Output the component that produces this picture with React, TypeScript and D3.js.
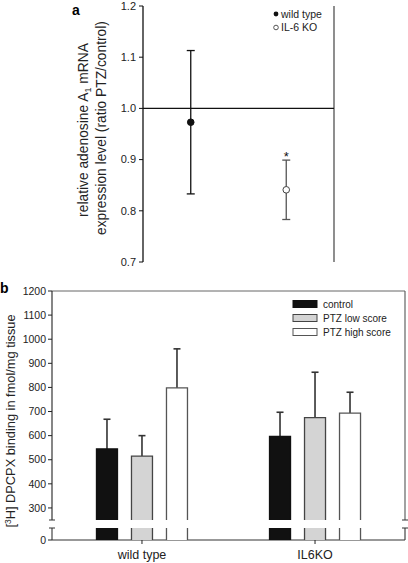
import React from "react";
import * as d3 from "d3";

const groupsA = ["wild type", "IL-6 KO"];
const meanA = [0.973, 0.841];
const lowA = [0.833, 0.783];
const highA = [1.113, 0.899];
const ticksA = [0.7, 0.8, 0.9, 1.0, 1.1, 1.2];

const groupsB = ["wild type", "IL6KO"];
const seriesB = ["control", "PTZ low score", "PTZ high score"];
const valuesB = [
  [545, 515, 798],
  [597, 675, 693],
];
const errTopB = [
  [668, 600, 960],
  [697, 863, 780],
];
const ticksB = [300, 400, 500, 600, 700, 800, 900, 1000, 1100, 1200];

const FONT = "Liberation Sans, Arial, sans-serif";

export default function App() {
  // Panel a
  const yA = d3.scaleLinear().domain([0.7, 1.2]).range([262, 6]);
  const xA = d3.scalePoint().domain(groupsA).range([143, 334]).padding(0.5);
  const axA = 143;
  const rightA = 334;

  // Panel b
  const left = 52;
  const right = 405;
  const yUp = d3.scaleLinear().domain([250, 1200]).range([520, 291]);
  const yLow = d3.scaleLinear().domain([0, 50]).range([540, 528]);
  const xG = d3.scalePoint().domain(groupsB).range([left, right]).padding(0.52);
  const xS = d3.scalePoint().domain(seriesB).range([-35, 35]);
  const bw = 21;
  const fills = ["#111111", "#d4d4d4", "#ffffff"];
  const strokes = ["#111111", "#444444", "#555555"];

  return (
    <svg width={408} height={563} style={{ position: "absolute", left: 0, top: 0, fontFamily: FONT }}>
      <rect width={408} height={563} fill="white" />
      {/* Panel a */}
      <text x={72} y={15} fontSize={14} fontWeight="bold">a</text>
      <line x1={axA} x2={axA} y1={yA(1.2)} y2={yA(0.7)} stroke="#111" strokeWidth={1.3} />
      <line x1={rightA} x2={rightA} y1={yA(1.2)} y2={yA(0.7)} stroke="#444" strokeWidth={1.2} />
      <line x1={axA} x2={rightA} y1={yA(1.0)} y2={yA(1.0)} stroke="#111" strokeWidth={1.2} />
      {ticksA.map((t) => (
        <g key={t}>
          <line x1={axA - 4} x2={axA} y1={yA(t)} y2={yA(t)} stroke="#111" strokeWidth={1} />
          <text x={axA - 7} y={yA(t)} dy="0.35em" textAnchor="end" fontSize={11} fill="#222">
            {t.toFixed(1)}
          </text>
        </g>
      ))}
      <g transform="translate(88,130) rotate(-90)">
        <text textAnchor="middle" fontSize={13.8} fill="#222">
          relative adenosine A<tspan fontSize={9} dy={3}>1</tspan>
          <tspan dy={-3}> mRNA</tspan>
        </text>
      </g>
      <g transform="translate(106,128) rotate(-90)">
        <text textAnchor="middle" fontSize={13.8} fill="#222">
          expression level (ratio PTZ/control)
        </text>
      </g>
      {groupsA.map((g, i) => {
        const x = xA(g)!;
        const col = i === 0 ? "#111" : "#555";
        return (
          <g key={g}>
            <line x1={x} x2={x} y1={yA(highA[i])} y2={yA(lowA[i])} stroke={col} strokeWidth={1.3} />
            <line x1={x - 4} x2={x + 4} y1={yA(highA[i])} y2={yA(highA[i])} stroke={col} strokeWidth={1.3} />
            <line x1={x - 4} x2={x + 4} y1={yA(lowA[i])} y2={yA(lowA[i])} stroke={col} strokeWidth={1.3} />
            <circle cx={x} cy={yA(meanA[i])} r={3.3} fill={i === 0 ? "#111" : "white"} stroke={i === 0 ? "#111" : "#444"} strokeWidth={1} />
          </g>
        );
      })}
      <text x={xA("IL-6 KO")!} y={yA(0.899) + 1} textAnchor="middle" fontSize={13} fill="#111">*</text>
      <circle cx={276} cy={14} r={2.4} fill="#111" />
      <text x={281} y={14} dy="0.35em" fontSize={10.5} fill="#222">wild type</text>
      <circle cx={276} cy={27.5} r={2.3} fill="white" stroke="#444" strokeWidth={0.9} />
      <text x={281} y={27.5} dy="0.35em" fontSize={10.5} fill="#222">IL-6 KO</text>

      {/* Panel b */}
      <text x={0} y={293} fontSize={14} fontWeight="bold">b</text>
      <line x1={left} x2={right} y1={yUp(1200)} y2={yUp(1200)} stroke="#666" strokeWidth={1} />
      <line x1={left} x2={right} y1={yLow(0)} y2={yLow(0)} stroke="#333" strokeWidth={1.2} />
      {[left, right].map((x, k) => (
        <g key={k}>
          <line x1={x} x2={x} y1={yUp(1200)} y2={yUp(250)} stroke={k === 0 ? "#222" : "#555"} strokeWidth={1.1} />
          <line x1={x - 3} x2={x + 3} y1={yUp(250)} y2={yUp(250)} stroke="#333" strokeWidth={1} />
          <line x1={x} x2={x} y1={yLow(0)} y2={yLow(50)} stroke="#333" strokeWidth={1.1} />
          <line x1={x - 3} x2={x + 3} y1={yLow(50)} y2={yLow(50)} stroke="#333" strokeWidth={1} />
        </g>
      ))}
      {ticksB.map((t) => (
        <g key={t}>
          <line x1={left - 4} x2={left} y1={yUp(t)} y2={yUp(t)} stroke="#222" strokeWidth={1} />
          <text x={left - 6} y={yUp(t)} dy="0.35em" textAnchor="end" fontSize={10.5} fill="#222">{t}</text>
        </g>
      ))}
      <line x1={left - 4} x2={left} y1={yLow(0)} y2={yLow(0)} stroke="#222" strokeWidth={1} />
      <text x={left - 6} y={yLow(0)} dy="0.35em" textAnchor="end" fontSize={10.5} fill="#222">0</text>
      <g transform="translate(15,421) rotate(-90)">
        <text textAnchor="middle" fontSize={12.8} fill="#222">
          [<tspan fontSize={8.5} dy={-4}>3</tspan><tspan dy={4}>H] DPCPX binding in fmol/mg tissue</tspan>
        </text>
      </g>
      {groupsB.map((g, gi) => {
        const cx = xG(g)!;
        return (
          <g key={g}>
            <line x1={cx} x2={cx} y1={yLow(0)} y2={yLow(0) + 4} stroke="#222" strokeWidth={1} />
            <text x={cx} y={559} textAnchor="middle" fontSize={12.5} fill="#222">{g}</text>
            {seriesB.map((s, si) => {
              const bx = cx + xS(s)! - bw / 2;
              const v = valuesB[gi][si];
              const e = errTopB[gi][si];
              const ex = bx + bw / 2;
              return (
                <g key={s}>
                  <line x1={ex} x2={ex} y1={yUp(e)} y2={yUp(v)} stroke="#333" strokeWidth={1.6} />
                  <line x1={ex - 3.5} x2={ex + 3.5} y1={yUp(e)} y2={yUp(e)} stroke="#333" strokeWidth={1.6} />
                  <rect x={bx} y={yUp(v)} width={bw} height={yUp(250) - yUp(v)} fill={fills[si]} />
                  <path d={`M${bx},${yUp(250)}V${yUp(v)}H${bx + bw}V${yUp(250)}`} fill="none" stroke={strokes[si]} strokeWidth={1.3} />
                  <rect x={bx} y={yLow(50)} width={bw} height={yLow(0) - yLow(50)} fill={fills[si]} />
                  <line x1={bx} x2={bx} y1={yLow(50)} y2={yLow(0)} stroke={strokes[si]} strokeWidth={1.3} />
                  <line x1={bx + bw} x2={bx + bw} y1={yLow(50)} y2={yLow(0)} stroke={strokes[si]} strokeWidth={1.3} />
                </g>
              );
            })}
          </g>
        );
      })}
      {seriesB.map((s, si) => (
        <g key={s}>
          <rect x={293} y={300.5 + si * 14} width={24} height={7} fill={fills[si]} stroke={strokes[si]} strokeWidth={1} />
          <text x={323} y={304 + si * 14} dy="0.35em" fontSize={10} fill="#222">{s}</text>
        </g>
      ))}
    </svg>
  );
}
